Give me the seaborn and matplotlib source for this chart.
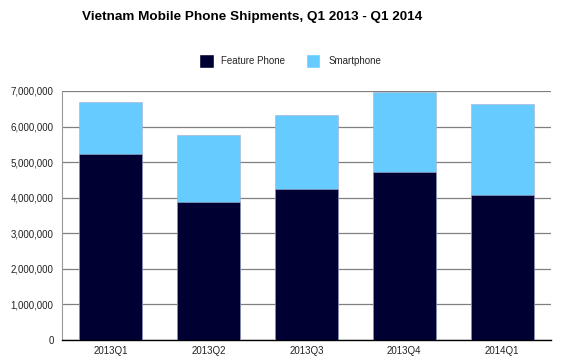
import matplotlib
matplotlib.use("Agg")
import matplotlib.pyplot as plt
import seaborn as sns
import pandas as pd
from matplotlib.patches import Patch
from matplotlib.ticker import FuncFormatter, MultipleLocator

quarters = ["2013Q1", "2013Q2", "2013Q3", "2013Q4", "2014Q1"]
feature_phone = [5220000, 3880000, 4250000, 4720000, 4080000]
smartphone = [1470000, 1870000, 2070000, 2260000, 2550000]

totals = [f + s for f, s in zip(feature_phone, smartphone)]
df = pd.DataFrame({"quarter": quarters, "feature": feature_phone, "total": totals})

sns.set_style("white")
plt.rcParams["font.family"] = ["Liberation Sans", "DejaVu Sans"]

fig = plt.figure(figsize=(5.64, 3.58), dpi=100)
ax = fig.add_axes([62 / 564, 1 - 340 / 358, (551 - 62) / 564, (340 - 91) / 358])

c_feat = "#000033"
c_smart = "#66CCFF"

sns.barplot(data=df, x="quarter", y="total", color=c_smart, saturation=1,
            width=0.645, ax=ax, zorder=3)
sns.barplot(data=df, x="quarter", y="feature", color=c_feat, saturation=1,
            width=0.645, ax=ax, zorder=3)
for p in ax.patches:
    p.set_edgecolor("#aaaacc")
    p.set_linewidth(0.4)

ax.set_ylim(0, 7000000)
ax.set_xlim(-0.5, 4.5)
ax.yaxis.set_major_locator(MultipleLocator(1000000))
ax.yaxis.set_major_formatter(FuncFormatter(lambda v, _: f"{int(v):,}"))
ax.grid(axis="y", color="#808080", linewidth=0.9, zorder=0)
ax.set_axisbelow(True)
ax.set_xlabel("")
ax.set_ylabel("")
for s in ["top", "right"]:
    ax.spines[s].set_visible(False)
ax.spines["left"].set_color("#999999")
ax.spines["left"].set_linewidth(0.8)
ax.spines["bottom"].set_color("#000000")
ax.spines["bottom"].set_linewidth(1.0)
ax.tick_params(axis="both", length=0, labelsize=7, colors="#222222", pad=4)
ax.tick_params(axis="y", pad=6)

fig.text(252 / 564, 1 - 17 / 358, "Vietnam Mobile Phone Shipments, Q1 2013 - Q1 2014",
         ha="center", va="center", fontsize=9.7, fontweight="bold", color="#000000")

handles = [Patch(facecolor=c_feat, label="Feature Phone"),
           Patch(facecolor=c_smart, label="Smartphone")]
fig.legend(handles=handles, loc="center", bbox_to_anchor=(290 / 564, 1 - 61 / 358),
           ncol=2, frameon=False, fontsize=7, handlelength=1.5, handleheight=1.9,
           handletextpad=0.8, columnspacing=2.1, borderpad=0, borderaxespad=0)

fig.savefig("out.png", dpi=100)
